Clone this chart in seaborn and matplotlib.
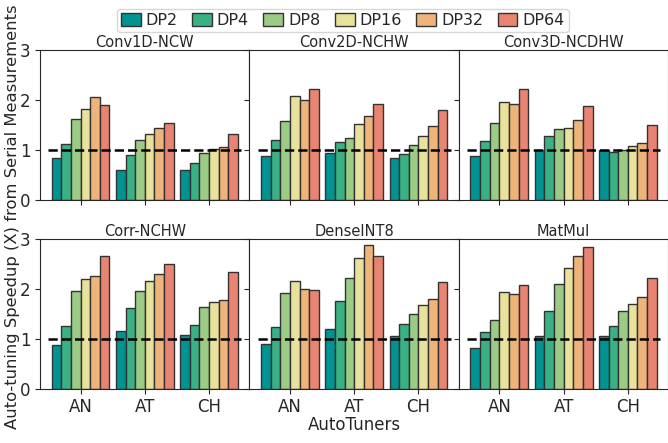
import pandas as pd
import matplotlib
matplotlib.use("Agg")
import matplotlib.pyplot as plt
import seaborn as sns

# valores
kernels = ["Conv1D-NCW", "Conv2D-NCHW", "Conv3D-NCDHW", "Corr-NCHW", "DenseINT8", "MatMul"]
tuners = ["AN", "AT", "CH"]
dps = ["DP2", "DP4", "DP8", "DP16", "DP32", "DP64"]

conv1d = [[0.84, 1.11, 1.61, 1.82, 2.05, 1.89],
          [0.60, 0.90, 1.19, 1.31, 1.43, 1.53],
          [0.59, 0.73, 0.93, 1.01, 1.06, 1.31]]
conv2d = [[0.88, 1.19, 1.58, 2.07, 1.99, 2.21],
          [0.93, 1.15, 1.23, 1.52, 1.68, 1.91],
          [0.84, 0.92, 1.10, 1.27, 1.48, 1.79]]
conv3d = [[0.87, 1.17, 1.54, 1.95, 1.92, 2.22],
          [1.00, 1.27, 1.41, 1.43, 1.59, 1.87],
          [0.99, 0.95, 0.99, 1.08, 1.14, 1.49]]
corr = [[0.87, 1.25, 1.95, 2.19, 2.25, 2.66],
        [1.15, 1.61, 1.95, 2.15, 2.30, 2.49],
        [1.07, 1.28, 1.63, 1.73, 1.77, 2.33]]
dense = [[0.89, 1.23, 1.91, 2.15, 1.99, 1.97],
         [1.20, 1.76, 2.21, 2.61, 2.87, 2.66],
         [1.05, 1.29, 1.50, 1.67, 1.79, 2.13]]
matmul = [[0.82, 1.13, 1.37, 1.93, 1.89, 2.08],
          [1.05, 1.55, 2.09, 2.42, 2.65, 2.84],
          [1.05, 1.25, 1.55, 1.69, 1.84, 2.21]]

cores = ["#009392", "#39b185", "#9ccb86", "#e9e29c", "#eeb479", "#e88471"]

linhas = []
for kernel, tabela in zip(kernels, [conv1d, conv2d, conv3d, corr, dense, matmul]):
    for tuner, valores in zip(tuners, tabela):
        for dp, v in zip(dps, valores):
            linhas.append({"Kernel": kernel, "AutoTuner": tuner, "DP": dp, "Speedup": v})
df = pd.DataFrame(linhas)

sns.set_style("ticks")
plt.rcParams["font.family"] = ["DejaVu Sans"]

fig = plt.figure(figsize=(6.68, 4.43), dpi=100)
esq, larg = 0.060, 0.3135
bases = [0.549, 0.1226]
alt = 0.338

eixos = []
for i, kernel in enumerate(kernels):
    lin, col = divmod(i, 3)
    ax = fig.add_axes([esq + col * larg, bases[lin], larg, alt])
    sub = df[df["Kernel"] == kernel]
    sns.barplot(data=sub, x="AutoTuner", y="Speedup", hue="DP", order=tuners,
                hue_order=dps, palette=cores, saturation=1, edgecolor="#333333",
                linewidth=1, width=0.9, ax=ax, legend=(i == 0))
    ax.hlines(1, -0.5, 2.5, colors="black", linestyles="--", linewidth=1.8)
    ax.set_xlim(-0.63, 2.63)
    ax.set_ylim(0, 3)
    ax.set_yticks([0, 1, 2, 3])
    ax.set_title(kernel, fontsize=10.5, pad=2)
    ax.set_xlabel("")
    ax.set_ylabel("")
    ax.tick_params(labelsize=12)
    if col != 0:
        ax.set_yticklabels([])
    if lin == 0:
        ax.set_xticklabels([])
    eixos.append(ax)

handles, labels = eixos[0].get_legend_handles_labels()
eixos[0].get_legend().remove()
fig.legend(handles, labels, loc="upper center", bbox_to_anchor=(0.513, 0.998), ncol=6,
           fontsize=11.5, handlelength=1.25, handleheight=0.9, handletextpad=0.3,
           columnspacing=0.9, borderpad=0.25, frameon=True)

fig.text(0.018, 0.51, "Auto-tuning Speedup (X) from Serial Measurements",
         rotation=90, va="center", ha="center", fontsize=11.8)
fig.text(0.53, 0.04, "AutoTuners", ha="center", va="center", fontsize=12)

fig.savefig("out.png", dpi=100)
